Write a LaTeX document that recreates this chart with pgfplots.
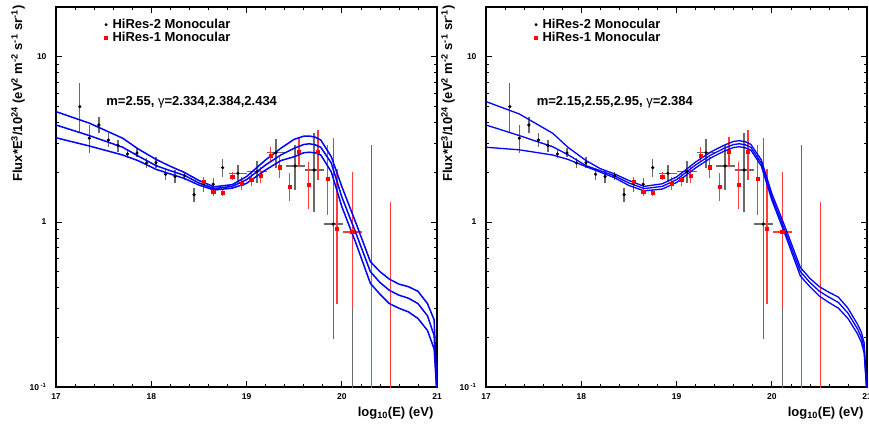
\documentclass[border=0pt]{standalone}
\usepackage{fontspec}
\setmainfont{Liberation Sans}
\usepackage{pgfplots}
\usepackage{pgfplotstable}
\pgfplotsset{compat=1.18}

\definecolor{errgray}{RGB}{105,105,105}
\definecolor{errred}{RGB}{255,60,60}
\definecolor{curveblue}{RGB}{0,0,255}

% HiRes-2 monocular points
\pgfplotstableread{
x y
17.25 4.98
17.35 3.21
17.45 3.86
17.55 3.13
17.65 2.90
17.75 2.58
17.85 2.61
17.95 2.27
18.05 2.28
18.15 1.94
18.25 1.88
18.35 1.90
18.45 1.46
18.55 1.70
18.65 1.69
18.75 2.13
18.91 1.97
19.11 2.01
19.31 2.62
19.51 2.18
19.71 2.06
19.91 0.97
}\hirestwo

% HiRes-2 error bars (segments, nan = break)
\pgfplotstableread{
x y
17.25 3.52
17.25 6.90
nan nan
17.35 2.60
17.35 3.86
nan nan
17.45 3.44
17.45 4.34
nan nan
17.55 2.85
17.55 3.44
nan nan
17.65 2.66
17.65 3.13
nan nan
17.75 2.43
17.75 2.73
nan nan
17.85 2.46
17.85 2.79
nan nan
17.95 2.11
17.95 2.43
nan nan
18.05 2.11
18.05 2.46
nan nan
18.15 1.80
18.15 2.08
nan nan
18.25 1.71
18.25 2.06
nan nan
18.35 1.80
18.35 2.01
nan nan
18.45 1.31
18.45 1.60
nan nan
18.55 1.52
18.55 1.88
nan nan
18.65 1.52
18.65 1.84
nan nan
18.75 1.88
18.75 2.39
nan nan
18.91 1.75
18.91 2.21
nan nan
18.82 1.97
19.01 1.97
nan nan
19.11 1.71
19.11 2.32
nan nan
19.01 2.01
19.21 2.01
nan nan
19.31 2.11
19.31 3.17
nan nan
19.21 2.62
19.41 2.62
nan nan
19.51 1.56
19.51 2.92
nan nan
19.41 2.18
19.61 2.18
nan nan
19.71 1.15
19.71 3.44
nan nan
19.61 2.06
19.81 2.06
nan nan
19.91 0.195
19.91 3.21
nan nan
19.81 0.97
20.01 0.97
nan nan
20.11 0.01
20.11 1.18
nan nan
20.31 0.01
20.31 2.92
}\hirestwobars

% HiRes-1 monocular points
\pgfplotstableread{
x y
18.55 1.75
18.65 1.52
18.75 1.51
18.85 1.88
18.95 1.70
19.05 1.80
19.15 1.90
19.25 2.51
19.35 2.14
19.45 1.64
19.55 2.66
19.65 1.67
19.75 2.65
19.85 1.82
19.95 0.91
20.11 0.867
}\hiresone

% HiRes-1 error bars
\pgfplotstableread{
x y
18.55 1.64
18.55 1.88
nan nan
18.65 1.44
18.65 1.60
nan nan
18.75 1.43
18.75 1.59
nan nan
18.85 1.80
18.85 2.01
nan nan
18.95 1.56
18.95 1.86
nan nan
19.05 1.64
19.05 1.97
nan nan
19.15 1.71
19.15 2.16
nan nan
19.25 2.32
19.25 2.85
nan nan
19.35 1.84
19.35 2.48
nan nan
19.45 1.33
19.45 1.97
nan nan
19.55 2.16
19.55 3.28
nan nan
19.65 1.19
19.65 2.29
nan nan
19.75 1.80
19.75 3.60
nan nan
19.85 1.10
19.85 2.92
nan nan
19.95 0.32
19.95 2.08
nan nan
20.11 0.30
20.11 2.01
nan nan
20.01 0.867
20.21 0.867
nan nan
20.31 0.01
20.31 0.525
nan nan
20.51 0.01
20.51 1.31
}\hiresonebars

% Left panel model curves (gamma = 2.334, 2.384, 2.434)
\pgfplotstableread{
x a b c
17.00 4.65 3.86 3.23
17.35 3.96 3.33 2.88
17.70 3.21 2.83 2.54
17.86 2.77 2.51 2.35
18.05 2.39 2.19 2.08
18.20 2.17 2.04 1.95
18.35 1.99 1.91 1.83
18.50 1.78 1.72 1.67
18.66 1.63 1.59 1.56
18.85 1.68 1.64 1.60
19.00 1.88 1.80 1.71
19.20 2.37 2.21 2.06
19.36 2.79 2.54 2.35
19.50 3.16 2.79 2.48
19.60 3.30 2.94 2.62
19.66 3.31 2.97 2.64
19.72 3.26 2.93 2.62
19.78 3.13 2.83 2.54
19.89 2.48 2.27 2.01
20.00 1.64 1.42 1.24
20.15 0.98 0.85 0.74
20.30 0.575 0.50 0.425
20.40 0.50 0.43 0.365
20.50 0.45 0.385 0.32
20.60 0.42 0.36 0.30
20.70 0.405 0.345 0.285
20.80 0.38 0.32 0.26
20.90 0.32 0.27 0.22
20.97 0.255 0.205 0.17
21.00 0.09 0.09 0.09
}\leftcurves

% Right panel model curves (m = 2.15, 2.55, 2.95)
\pgfplotstableread{
x a b c
17.00 5.35 3.86 2.83
17.35 4.50 3.33 2.73
17.70 3.44 2.85 2.54
17.86 2.83 2.55 2.39
18.05 2.35 2.19 2.16
18.20 2.10 2.04 2.00
18.35 1.95 1.90 1.85
18.50 1.78 1.72 1.66
18.66 1.64 1.59 1.54
18.85 1.70 1.64 1.58
19.00 1.87 1.80 1.73
19.20 2.30 2.21 2.12
19.36 2.65 2.54 2.44
19.50 2.91 2.79 2.68
19.60 3.07 2.94 2.82
19.66 3.10 2.97 2.85
19.72 3.06 2.93 2.81
19.78 2.95 2.83 2.72
19.89 2.37 2.27 2.18
20.00 1.49 1.42 1.36
20.15 0.90 0.85 0.81
20.30 0.53 0.50 0.47
20.40 0.455 0.43 0.405
20.50 0.405 0.38 0.355
20.60 0.375 0.35 0.325
20.70 0.35 0.325 0.30
20.80 0.30 0.28 0.26
20.90 0.24 0.225 0.21
20.94 0.215 0.20 0.187
20.97 0.185 0.172 0.16
21.00 0.09 0.09 0.09
}\rightcurves

\begin{document}
\begin{tikzpicture}
\useasboundingbox (0,0) rectangle (869pt,426pt);

\begin{axis}[
    ymode=log,
    at={(56pt,39pt)}, anchor=south west,
    width=381pt, height=380pt, scale only axis,
    xmin=17, xmax=21, ymin=0.1, ymax=20,
    xtick={17,18,19,20,21}, xticklabels={17,18,19,20,21}, minor x tick num=4,
    ytick={0.1,1,10}, yticklabels={10\textsuperscript{ -1},1,10},
    tick align=inside,
    major tick length=6pt, minor tick length=3pt,
    tick style={black, line width=0.6pt},
    axis line style={line width=1.1pt},
    tick label style={font=\bfseries\fontsize{8.5}{10}\selectfont},
    xticklabel style={yshift=-3pt},
    yticklabel style={xshift=-6pt},
    unbounded coords=jump,
    xlabel={log\textsubscript{10}(E) (eV)},
    xlabel style={at={(axis description cs:1,-0.068)}, anchor=east, font=\bfseries\fontsize{13}{15}\selectfont},
    ylabel={Flux*E\textsuperscript{3}/10\textsuperscript{24} (eV\textsuperscript{2} m\textsuperscript{-2} s\textsuperscript{-1} sr\textsuperscript{-1})},
    ylabel style={at={(axis description cs:-0.0997,1.013)}, anchor=east, font=\bfseries\fontsize{13}{15}\selectfont},
    legend style={at={(0.127,0.971)}, anchor=north west, draw=none, fill=none, inner sep=0pt,
      font=\bfseries\fontsize{13}{15}\selectfont,
      nodes={inner ysep=1pt, inner xsep=5pt, text height=9pt, text depth=2pt}},
    legend cell align=left,
]
\addlegendimage{only marks, mark=*, mark size=1.3pt, black}
\addlegendentry{HiRes-2 Monocular}
\addlegendimage{only marks, mark=square*, mark size=1.5pt, red}
\addlegendentry{HiRes-1 Monocular}
\addplot[forget plot, errgray, line width=1.3pt, no marks] table[x=x, y=y] {\hirestwobars};
\addplot[forget plot, only marks, mark=*, mark size=1.4pt, black] table[x=x, y=y] {\hirestwo};
\addplot[forget plot, errred, line width=1.3pt, no marks] table[x=x, y=y] {\hiresonebars};
\addplot[forget plot, only marks, mark=square*, mark size=1.6pt, red] table[x=x, y=y] {\hiresone};
\addplot[forget plot, curveblue, line width=1.5pt, no marks] table[x=x, y=a] {\leftcurves};
\addplot[forget plot, curveblue, line width=1.5pt, no marks] table[x=x, y=b] {\leftcurves};
\addplot[forget plot, curveblue, line width=1.5pt, no marks] table[x=x, y=c] {\leftcurves};
\node[anchor=west, font=\bfseries\fontsize{13}{15}\selectfont] at (rel axis cs:0.123,0.75) {m=2.55, {\mdseries γ}=2.334,2.384,2.434};
\end{axis}

\begin{axis}[
    ymode=log,
    at={(486pt,39pt)}, anchor=south west,
    width=381pt, height=380pt, scale only axis,
    xmin=17, xmax=21, ymin=0.1, ymax=20,
    xtick={17,18,19,20,21}, xticklabels={17,18,19,20,21}, minor x tick num=4,
    ytick={0.1,1,10}, yticklabels={10\textsuperscript{ -1},1,10},
    tick align=inside,
    major tick length=6pt, minor tick length=3pt,
    tick style={black, line width=0.6pt},
    axis line style={line width=1.1pt},
    tick label style={font=\bfseries\fontsize{8.5}{10}\selectfont},
    xticklabel style={yshift=-3pt},
    yticklabel style={xshift=-6pt},
    unbounded coords=jump,
    xlabel={log\textsubscript{10}(E) (eV)},
    xlabel style={at={(axis description cs:1,-0.068)}, anchor=east, font=\bfseries\fontsize{13}{15}\selectfont},
    ylabel={Flux*E\textsuperscript{3}/10\textsuperscript{24} (eV\textsuperscript{2} m\textsuperscript{-2} s\textsuperscript{-1} sr\textsuperscript{-1})},
    ylabel style={at={(axis description cs:-0.0997,1.013)}, anchor=east, font=\bfseries\fontsize{13}{15}\selectfont},
    legend style={at={(0.127,0.971)}, anchor=north west, draw=none, fill=none, inner sep=0pt,
      font=\bfseries\fontsize{13}{15}\selectfont,
      nodes={inner ysep=1pt, inner xsep=5pt, text height=9pt, text depth=2pt}},
    legend cell align=left,
]
\addlegendimage{only marks, mark=*, mark size=1.3pt, black}
\addlegendentry{HiRes-2 Monocular}
\addlegendimage{only marks, mark=square*, mark size=1.5pt, red}
\addlegendentry{HiRes-1 Monocular}
\addplot[forget plot, errgray, line width=1.3pt, no marks] table[x=x, y=y] {\hirestwobars};
\addplot[forget plot, only marks, mark=*, mark size=1.4pt, black] table[x=x, y=y] {\hirestwo};
\addplot[forget plot, errred, line width=1.3pt, no marks] table[x=x, y=y] {\hiresonebars};
\addplot[forget plot, only marks, mark=square*, mark size=1.6pt, red] table[x=x, y=y] {\hiresone};
\addplot[forget plot, curveblue, line width=1.3pt, no marks] table[x=x, y=a] {\rightcurves};
\addplot[forget plot, curveblue, line width=1.3pt, no marks] table[x=x, y=b] {\rightcurves};
\addplot[forget plot, curveblue, line width=1.3pt, no marks] table[x=x, y=c] {\rightcurves};
\node[anchor=west, font=\bfseries\fontsize{13}{15}\selectfont] at (rel axis cs:0.124,0.75) {m=2.15,2.55,2.95, {\mdseries γ}=2.384};
\end{axis}
\end{tikzpicture}
\end{document}
